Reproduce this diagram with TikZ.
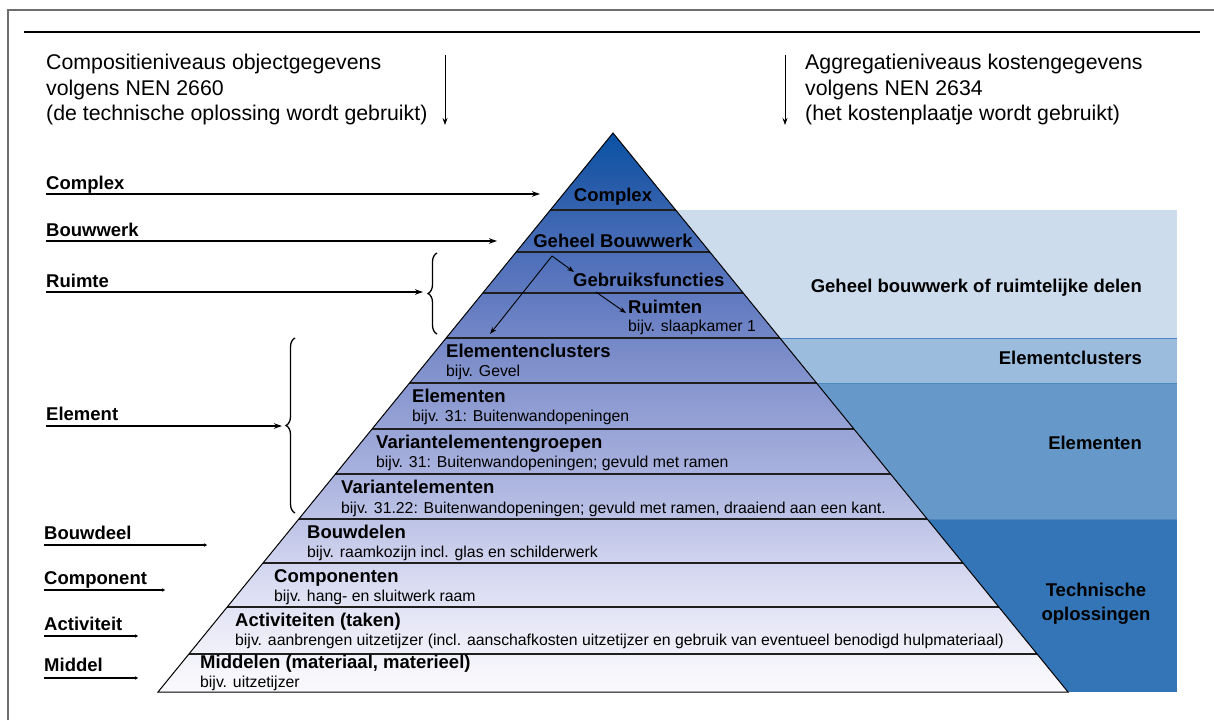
\documentclass[tikz,border=0pt]{standalone}
\usepackage{fontspec}
\setmainfont{Liberation Sans}
\usetikzlibrary{arrows.meta,decorations.pathreplacing,calc}

\definecolor{bandlight}{RGB}{205,220,236}
\definecolor{bandclus}{RGB}{155,188,221}
\definecolor{bandelem}{RGB}{102,153,201}
\definecolor{bandtech}{RGB}{51,117,182}
\definecolor{bandline}{RGB}{80,134,191}
\definecolor{framegray}{RGB}{110,110,110}

% colour stops of the pyramid, from base to apex
\definecolor{pyrA}{RGB}{250,250,253}
\definecolor{pyrB}{RGB}{246,246,251}
\definecolor{pyrC}{RGB}{234,234,247}
\definecolor{pyrD}{RGB}{218,220,242}
\definecolor{pyrE}{RGB}{198,203,234}
\definecolor{pyrF}{RGB}{178,186,226}
\definecolor{pyrG}{RGB}{160,170,218}
\definecolor{pyrH}{RGB}{142,156,210}
\definecolor{pyrI}{RGB}{125,142,202}
\definecolor{pyrJ}{RGB}{105,128,195}
\definecolor{pyrK}{RGB}{85,115,188}
\definecolor{pyrL}{RGB}{65,105,180}
\definecolor{pyrM}{RGB}{36,90,168}
\definecolor{pyrN}{RGB}{10,82,165}

% vertical colour ramp of the pyramid (the path maps onto 25bp..75bp)
\pgfdeclareverticalshading{pyramidramp}{100bp}{%
  color(0bp)=(pyrA); color(25bp)=(pyrA); color(26.7bp)=(pyrB);
  color(30.5bp)=(pyrC); color(34.6bp)=(pyrD); color(38.6bp)=(pyrE);
  color(42.6bp)=(pyrF); color(46.6bp)=(pyrG); color(50.7bp)=(pyrH);
  color(54.7bp)=(pyrI); color(58.7bp)=(pyrJ); color(62.6bp)=(pyrK);
  color(66.3bp)=(pyrL); color(70.8bp)=(pyrM); color(75bp)=(pyrN);
  color(100bp)=(pyrN)}

\begin{document}
\begin{tikzpicture}[x=1pt,y=-1pt,
  hdr/.style={font=\fontsize{21.3}{25.5}\selectfont, anchor=base west, inner sep=0pt},
  lvl/.style={font=\bfseries\fontsize{18.5}{22}\selectfont, anchor=base west, inner sep=0pt},
  ex/.style={font=\fontsize{15.8}{18}\selectfont, anchor=base west, inner sep=0pt},
  band/.style={font=\bfseries\fontsize{18.5}{24}\selectfont, inner sep=0pt},
  longarrow/.style={line width=1.1pt, -{Stealth[length=8pt,width=5.5pt]}},
  shortarrow/.style={line width=1.1pt, -{Stealth[length=3pt,width=3.5pt]}},
  thinarrow/.style={line width=0.9pt, -{Stealth[length=7pt,width=5pt]}},
  sep/.style={line width=1.4pt, black!88},
  lbrace/.style={line width=1.3pt, decorate, decoration={brace, amplitude=9pt}}]

\useasboundingbox (0,0) rectangle (1214,720);

% frame and header rule
\draw[framegray, line width=1.6pt] (8,720) -- (8,10) -- (1214,10);
\draw[line width=1.3pt] (24,32) -- (1200,32);

% header texts
\node[hdr] (hl1) at (46,69) {Compositieniveaus objectgegevens};
\node[hdr] (hl2) at (46,95) {volgens NEN 2660};
\node[hdr] (hl3) at (46,120) {(de technische oplossing wordt gebruikt)};
\node[hdr] (hr1) at (805,69) {Aggregatieniveaus kostengegevens};
\node[hdr] (hr2) at (805,95) {volgens NEN 2634};
\node[hdr] (hr3) at (805,120) {(het kostenplaatje wordt gebruikt)};
\coordinate (vlTop) at (445,55);
\coordinate (vlBot) at (445,125);
\coordinate (vrTop) at (785,55);
\coordinate (vrBot) at (785,125);
\draw[thinarrow] (vlTop) -- (vlBot);
\draw[thinarrow] (vrTop) -- (vrBot);

% right-hand bands
\fill[bandlight] (613,210) rectangle (1177,338);
\fill[bandclus] (613,338) rectangle (1177,383);
\fill[bandelem] (613,383) rectangle (1177,519);
\fill[bandtech] (613,519) rectangle (1177,692);
\draw[bandline, line width=0.8pt] (613,338) -- (1177,338);
\draw[bandline, line width=0.8pt] (613,383) -- (1177,383);
\draw[bandline, line width=0.8pt] (613,519) -- (1177,519);

\node[band, anchor=base east] (bGeheel) at (1142,292) {Geheel bouwwerk of ruimtelijke delen};
\node[band, anchor=base east] (bClus) at (1142,364) {Elementclusters};
\node[band, anchor=base east] (bElem) at (1142,449) {Elementen};
\node[band, align=center] (bTech) at (1096,604) {Technische\\oplossingen};

% pyramid
\coordinate (A) at (613,133);
\coordinate (BL) at (158,692);
\coordinate (BR) at (1068,692);
\shade[shading=pyramidramp] (A) -- (BR) -- (BL) -- cycle;
\foreach \yy in {210,252,293,338,383,429,474,519,563,607,654}
  \draw[sep] ({613-0.814*(\yy-133)},\yy) -- ({613+0.814*(\yy-133)},\yy);
\draw[line width=1pt] (A) -- (BR) -- (BL) -- cycle;

% level texts inside the pyramid
\node[lvl, anchor=base] (pComplex) at (613,201) {Complex};
\node[lvl, anchor=base] (pGeheel) at (613,247) {Geheel Bouwwerk};
\node[lvl] (pGebr) at (573,286) {Gebruiksfuncties};
\node[lvl] (pRuim) at (628,313) {Ruimten};
\node[ex] (pRuimEx) at (628,331) {bijv. slaapkamer 1};
\node[lvl] (pClus) at (446,357) {Elementenclusters};
\node[ex] (pClusEx) at (446,376) {bijv. Gevel};
\node[lvl] (pElem) at (412,402) {Elementen};
\node[ex] (pElemEx) at (412,421) {bijv. 31: Buitenwandopeningen};
\node[lvl] (pVgrp) at (376,448) {Variantelementengroepen};
\node[ex] (pVgrpEx) at (376,467) {bijv. 31: Buitenwandopeningen; gevuld met ramen};
\node[lvl] (pVel) at (341,493) {Variantelementen};
\node[ex] (pVelEx) at (341,513) {bijv. 31.22: Buitenwandopeningen; gevuld met ramen, draaiend aan een kant.};
\node[lvl] (pBouw) at (307,538) {Bouwdelen};
\node[ex] (pBouwEx) at (307,557) {bijv. raamkozijn incl. glas en schilderwerk};
\node[lvl] (pComp) at (274,582) {Componenten};
\node[ex] (pCompEx) at (274,601) {bijv. hang- en sluitwerk raam};
\node[lvl] (pAct) at (235,626) {Activiteiten (taken)};
\node[ex] (pActEx) at (235,645) {bijv. aanbrengen uitzetijzer (incl. aanschafkosten uitzetijzer en gebruik van eventueel benodigd hulpmateriaal)};
\node[lvl] (pMid) at (200,668) {Middelen (materiaal, materieel)};
\node[ex] (pMidEx) at (200,687) {bijv. uitzetijzer};

% arrows between the spatial levels
\coordinate (splitPt) at (552,256);
\coordinate (gebrTip) at (574,272);
\coordinate (clusTip) at (490,334);
\coordinate (gebrFoot) at (596,292);
\coordinate (ruimTip) at (626,313);
\draw[thinarrow] (splitPt) -- (gebrTip);
\draw[thinarrow] (splitPt) -- (clusTip);
\draw[thinarrow] (gebrFoot) -- (ruimTip);

% left-hand labels with their arrows
\node[lvl] (lComplex) at (46,189) {Complex};
\node[lvl] (lBouwwerk) at (46,236) {Bouwwerk};
\node[lvl] (lRuimte) at (46,287) {Ruimte};
\node[lvl] (lElement) at (46,420) {Element};
\node[lvl] (lBouwdeel) at (44,539) {Bouwdeel};
\node[lvl] (lComponent) at (44,584) {Component};
\node[lvl] (lActiviteit) at (44,630) {Activiteit};
\node[lvl] (lMiddel) at (44,671) {Middel};

\coordinate (tComplex) at (540,194);
\coordinate (tBouwwerk) at (497,241);
\coordinate (tRuimte) at (423,292);
\coordinate (tElement) at (282,426);
\coordinate (tBouwdeel) at (207,545);
\coordinate (tComponent) at (165,590);
\coordinate (tActiviteit) at (138,636);
\coordinate (tMiddel) at (138,678);

\draw[longarrow] (lComplex.west |- tComplex) -- (tComplex);
\draw[longarrow] (lBouwwerk.west |- tBouwwerk) -- (tBouwwerk);
\draw[longarrow] (lRuimte.west |- tRuimte) -- (tRuimte);
\draw[longarrow] (lElement.west |- tElement) -- (tElement);
\draw[shortarrow] (lBouwdeel.west |- tBouwdeel) -- (tBouwdeel);
\draw[shortarrow] (lComponent.west |- tComponent) -- (tComponent);
\draw[shortarrow] (lActiviteit.west |- tActiviteit) -- (tActiviteit);
\draw[shortarrow] (lMiddel.west |- tMiddel) -- (tMiddel);

% braces grouping the levels
\coordinate (brRtop) at (437,253);
\coordinate (brRbot) at (437,334);
\coordinate (brEtop) at (295,338);
\coordinate (brEbot) at (295,513);
\draw[lbrace] (brRbot) -- (brRtop);
\draw[lbrace] (brEbot) -- (brEtop);

\end{tikzpicture}
\end{document}
